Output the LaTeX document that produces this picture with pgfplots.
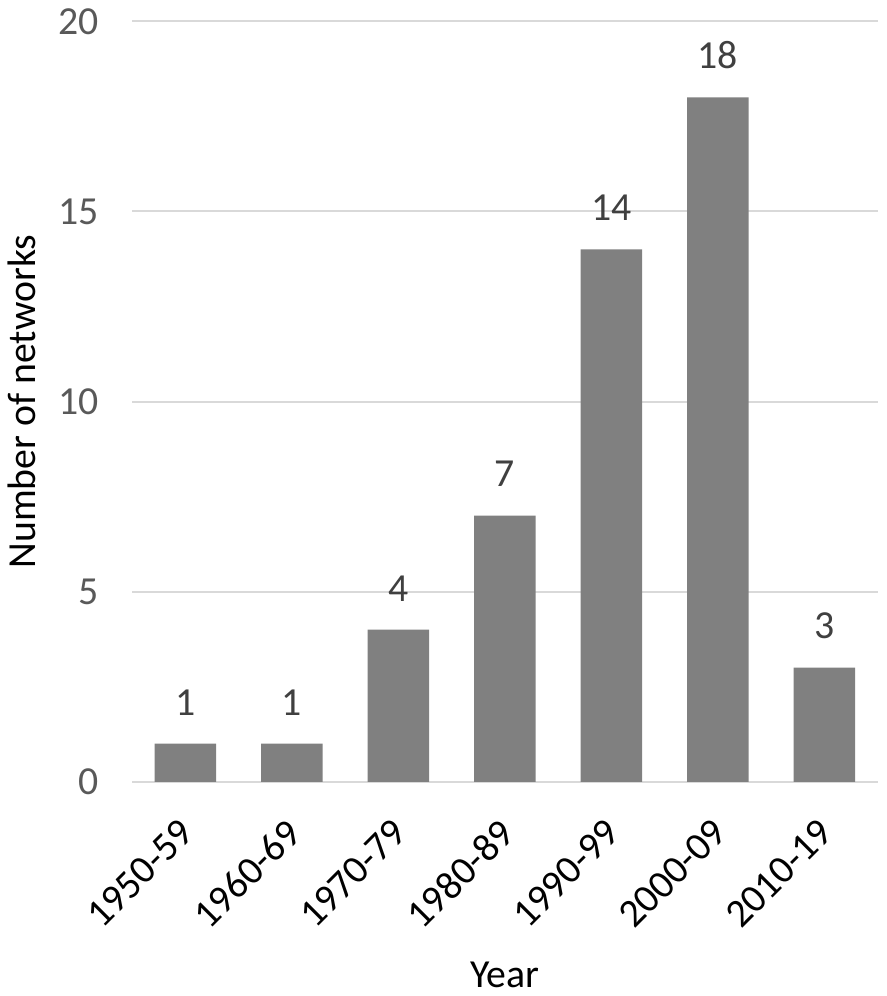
\documentclass[border=0pt]{standalone}
\usepackage{pgfplots}
\pgfplotsset{compat=1.18}
\usepackage{fontspec}
\setmainfont{Carlito}
\definecolor{barc}{HTML}{808080}
\definecolor{gridc}{HTML}{D9D9D9}
\definecolor{txt}{HTML}{595959}
\begin{document}
\begin{tikzpicture}
\begin{axis}[
    ybar,
    scale only axis,
    width=300pt,
    height=306pt,
    xmin=-0.5, xmax=6.5,
    ymin=0, ymax=20,
    ytick={0,5,10,15,20},
    xtick=data,
    xticklabels={1950-59,1960-69,1970-79,1980-89,1990-99,2000-09,2010-19},
    x tick label style={xshift=-3pt, yshift=-14pt, rotate=45, anchor=north east, inner sep=0pt, text=black},
    y tick label style={xshift=-10pt, text=txt},
    bar width=24.8pt,
    axis x line*=bottom,
    axis y line*=left,
    y axis line style={draw=none},
    x axis line style={gridc, line width=0.8pt},
    ymajorgrids,
    grid style={gridc, line width=0.8pt},
    major tick length=0pt,
    tick label style={font=\fontsize{16}{18}\selectfont},
    /pgf/number format/assume math mode=true,
    xlabel={Year},
    ylabel={Number of networks},
    xlabel style={yshift=-9pt},
    ylabel style={yshift=2pt},
    label style={font=\fontsize{16}{18}\selectfont, text=black},
    nodes near coords,
    nodes near coords style={font=\fontsize{16}{18}\selectfont, text=black!75, yshift=8pt},
    clip=false,
    after end axis/.code={\path (rel axis cs:1,0) ++(3.5pt,0);},
]
\addplot[fill=barc, draw=none] coordinates {
    (0,1) (1,1) (2,4) (3,7) (4,14) (5,18) (6,3)};
\end{axis}
\end{tikzpicture}
\end{document}
